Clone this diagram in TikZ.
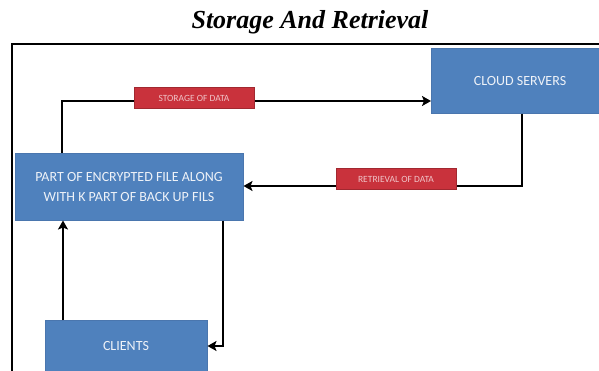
\documentclass[tikz,border=0pt]{standalone}
\usepackage{fontspec}
\setmainfont{Liberation Serif}
\newfontfamily\boxfont{Carlito}
\usetikzlibrary{arrows.meta}
\definecolor{boxblue}{HTML}{4F81BD}
\definecolor{boxedge}{HTML}{4A76AE}
\definecolor{labred}{HTML}{C9323C}
\definecolor{labtext}{HTML}{F0C4C8}
\definecolor{boxtextc}{HTML}{EEF2F8}
\begin{document}
\begin{tikzpicture}[x=1pt,y=-1pt,
  bluebox/.style={fill=boxblue, draw=boxedge, line width=0.5pt, inner sep=0pt, anchor=north west},
  boxtext/.style={text=boxtextc, font=\boxfont\fontsize{14}{20}\selectfont, align=center, inner sep=0pt},
  redlabel/.style={fill=labred, draw=labred!80!black, line width=0.3pt, text=labtext,
    font=\boxfont\fontsize{9.5}{10}\selectfont, minimum width=120pt, minimum height=21pt, inner sep=0pt},
  conn/.style={line width=2.8pt, -{Stealth[length=9pt,width=10pt,inset=2pt]}},
  framel/.style={line width=2pt}]
\useasboundingbox (0,0) rectangle (599,370);
\clip (0,0) rectangle (599,370);
% title
\node[font=\bfseries\itshape\fontsize{26}{30}\selectfont, inner sep=0pt] (title) at (310,22) {Storage And Retrieval};
% frame
\coordinate (f1) at (12,372);
\coordinate (f2) at (12,43.5);
\coordinate (f3) at (601,43.5);
\draw[framel] (f1) -- (f2) -- (f3);
% boxes
\node[bluebox, minimum width=178pt, minimum height=65pt] (cloud) at (431,48) {};
\node[boxtext] (cloudt) at (520,81) {CLOUD SERVERS};
\node[bluebox, minimum width=228pt, minimum height=67pt] (enc) at (15,153) {};
\node[boxtext] (enct) at (129,187) {PART OF ENCRYPTED FILE ALONG\\WITH K PART OF BACK UP FILS};
\node[bluebox, minimum width=162pt, minimum height=60pt] (cli) at (45,320) {};
\node[boxtext] (clit) at (126,346) {CLIENTS};
% connector corners
\coordinate (c1) at (62,101);
\coordinate (c2) at (522,186);
\coordinate (c3) at (223,346);
% connectors
\draw[conn] (enc.north -| c1) -- (c1) -- (c1 -| cloud.west);
\draw[conn] (cloud.south -| c2) -- (c2) -- (c2 -| enc.east);
\draw[conn] (cli.north -| 63,0) -- (enc.south -| 63,0);
\draw[conn] (enc.south -| c3) -- (c3) -- (c3 -| cli.east);
% labels
\node[redlabel] (store) at (194,98) {STORAGE OF DATA};
\node[redlabel] (retr) at (396,179) {RETRIEVAL OF DATA};
\end{tikzpicture}
\end{document}
